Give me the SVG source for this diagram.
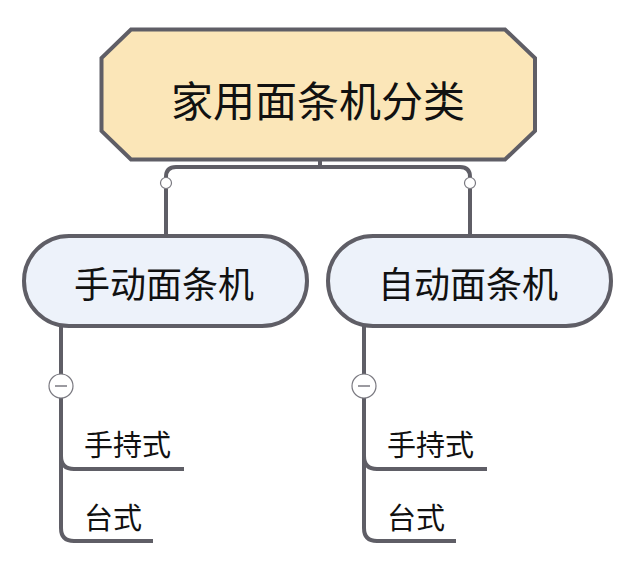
<svg xmlns="http://www.w3.org/2000/svg" width="638" height="569" viewBox="0 0 638 569">
<style>
.ln{fill:none;stroke:#5f5e66;stroke-width:4;stroke-linecap:butt}
.t{font-family:"Noto Sans CJK SC","Noto Sans",sans-serif;fill:#111;text-anchor:middle;dominant-baseline:central}
.s{font-family:"Noto Sans CJK SC","Noto Sans",sans-serif;fill:#111;dominant-baseline:central;font-size:29px}
.knob{fill:#fff;stroke:#7a7980;stroke-width:1.2}
</style>
<rect width="638" height="569" fill="#fff"/>
<g id="connectors">
<path class="ln" d="M320,160 V167"/>
<path class="ln" d="M166,237 V177 Q166,167 176,167 H460 Q470,167 470,177 V237"/>
<path class="ln" d="M61,326 V456 Q61,469 74,469 H184"/>
<path class="ln" d="M61,456 V528 Q61,541 74,541 H153"/>
<path class="ln" d="M364,326 V456 Q364,469 377,469 H487"/>
<path class="ln" d="M364,456 V528 Q364,541 377,541 H456"/>
<circle class="knob" cx="166" cy="183" r="5.5"/>
<circle class="knob" cx="470" cy="183" r="5.5"/>
<g id="collapse-left"><circle class="knob" cx="61" cy="386" r="12"/><line x1="55" y1="386" x2="67" y2="386" stroke="#7a7980" stroke-width="1.5"/></g>
<g id="collapse-right"><circle class="knob" cx="364" cy="386" r="12"/><line x1="358" y1="386" x2="370" y2="386" stroke="#7a7980" stroke-width="1.5"/></g>
</g>
<g id="root">
<polygon points="131,29.5 505,29.5 535,58 535,131 505,159.5 131,159.5 101.5,131 101.5,58" fill="#fbe6b8" stroke="#5f5e66" stroke-width="4"/>
<text class="t" x="318" y="98" font-size="42">家用面条机分类</text>
</g>
<g id="manual">
<rect x="24" y="236" width="283" height="90" rx="45" fill="#edf2fa" stroke="#5f5e66" stroke-width="4"/>
<text class="t" x="164" y="282" font-size="36">手动面条机</text>
</g>
<g id="auto">
<rect x="328" y="236" width="283" height="90" rx="45" fill="#edf2fa" stroke="#5f5e66" stroke-width="4"/>
<text class="t" x="468" y="282" font-size="36">自动面条机</text>
</g>
<g id="manual-handheld"><text class="s" x="84" y="443">手持式</text></g>
<g id="manual-table"><text class="s" x="84" y="516">台式</text></g>
<g id="auto-handheld"><text class="s" x="387" y="443">手持式</text></g>
<g id="auto-table"><text class="s" x="387" y="516">台式</text></g>
</svg>
